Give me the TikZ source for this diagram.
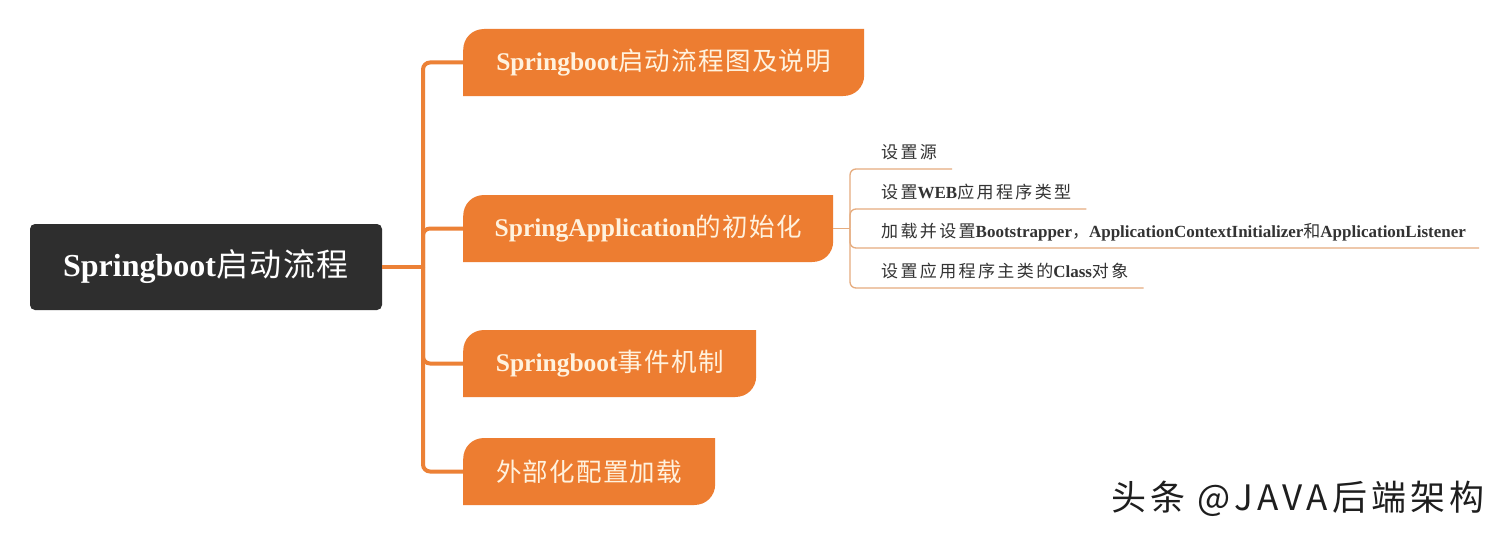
\documentclass[tikz,border=0pt]{standalone}
\usepackage{fontspec}
\setmainfont{Liberation Serif}
\newfontfamily\cjkbox[LetterSpace=5]{Noto Sans CJK SC}
\newfontfamily\cjkleaf[LetterSpace=14]{Noto Sans CJK SC}
\newfontfamily\wmfont[LetterSpace=12]{Noto Sans CJK SC}
\newcommand\zhb[1]{{\cjkbox\mdseries #1}}
\newcommand\zhl[1]{{\cjkleaf\mdseries #1}}
\definecolor{rootfill}{HTML}{2E2E2E}
\definecolor{orangefill}{HTML}{ED7D31}
\definecolor{boxtext}{HTML}{FFF2DE}
\definecolor{trunkc}{HTML}{EC8136}
\definecolor{twigc}{HTML}{E6AC7E}
\definecolor{leaftext}{HTML}{333333}
\definecolor{wmtext}{HTML}{1E1E1E}
\begin{document}
\begin{tikzpicture}[x=1pt,y=-1pt,
  rootbox/.style={fill=rootfill, rounded corners=5pt, minimum width=352pt, minimum height=86pt,
    inner sep=0pt, text=white, font=\fontsize{32}{38}\selectfont\bfseries},
  obox/.style={anchor=west, minimum height=67pt, inner sep=0pt, text=boxtext,
    font=\fontsize{25.5}{30}\selectfont\bfseries,
    path picture={\fill[orangefill] (path picture bounding box.south west)
      -- ([yshift=-21pt]path picture bounding box.north west)
      .. controls ([yshift=-9pt]path picture bounding box.north west) and ([xshift=9pt]path picture bounding box.north west)
      .. ([xshift=21pt]path picture bounding box.north west)
      -- (path picture bounding box.north east)
      -- ([yshift=21pt]path picture bounding box.south east)
      .. controls ([yshift=9pt]path picture bounding box.south east) and ([xshift=-9pt]path picture bounding box.south east)
      .. ([xshift=-21pt]path picture bounding box.south east) -- cycle;}},
  leaf/.style={anchor=south west, inner xsep=0pt, inner ysep=6pt, text depth=4pt, text height=12pt,
    text=leaftext, font=\fontsize{17}{20}\selectfont\bfseries},
  trunk/.style={draw=trunkc, line width=4pt, rounded corners=7pt},
  twig/.style={draw=twigc, line width=1.3pt, rounded corners=6pt},
  wm/.style={text=wmtext, inner sep=0pt, font=\wmfont\fontsize{35}{40}\selectfont}]
\useasboundingbox (0,0) rectangle (1512,535);
\fill[white] (0,0) rectangle (1512,535);

\node[rootbox] (root) at (206,267) {Springboot\zhb{启动流程}};
\node[obox, minimum width=401pt] (b1) at (463,62.5) {Springboot\zhb{启动流程图及说明}};
\node[obox, minimum width=370pt] (b2) at (463,228.5) {SpringApplication\zhb{的初始化}};
\node[obox, minimum width=293pt] (b3) at (463,363.5) {Springboot\zhb{事件机制}};
\node[obox, minimum width=252pt] (b4) at (463,471.5) {\zhb{外部化配置加载}};

\coordinate (tk) at (423,267);
\draw[trunk] (root.east) -- (tk);
\foreach \b in {b1,b2,b3,b4} \draw[trunk] (tk) |- (\b.west);

\node[leaf] (c1) at (850,169) {\hspace*{31pt}\zhl{设置源}\hspace*{15pt}};
\node[leaf] (c2) at (850,209) {\hspace*{31pt}\zhl{设置}WEB\zhl{应用程序类型}\hspace*{15pt}};
\node[leaf] (c3) at (850,248) {\hspace*{31pt}\zhl{加载并设置}Bootstrapper\zhl{，}ApplicationContextInitializer\zhl{和}ApplicationListener\hspace*{13pt}};
\node[leaf] (c4) at (850,288) {\hspace*{31pt}\zhl{设置应用程序主类的}Class\zhl{对象}\hspace*{15pt}};

\coordinate (sk) at (850,228.5);
\draw[twig] (b2.east) -- (sk);
\foreach \c in {c1,c2,c3,c4} \draw[twig] (sk) |- (\c.south east);

\node[wm] (wm) at (1298,499) {头条 @JAVA后端架构};
\end{tikzpicture}
\end{document}
